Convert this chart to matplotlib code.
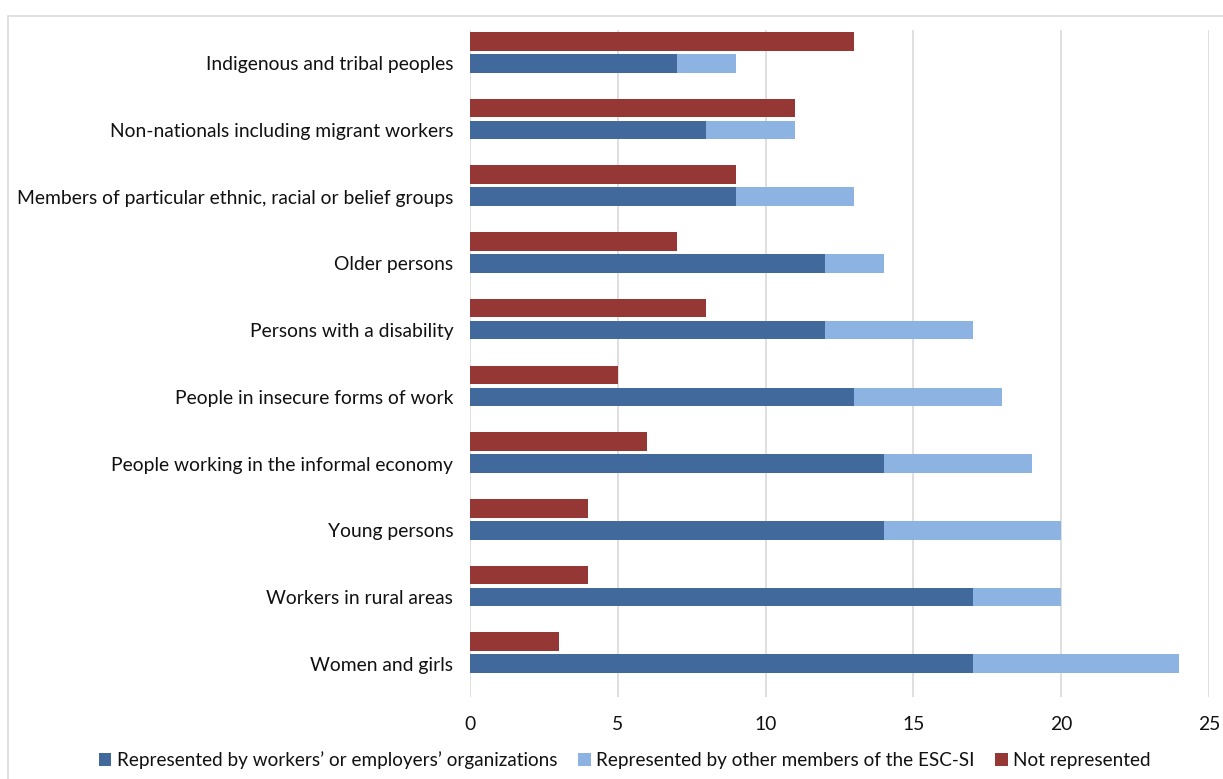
import matplotlib
matplotlib.use("Agg")
import matplotlib.pyplot as plt
from matplotlib.patches import Rectangle
import numpy as np

plt.rcParams['font.family'] = ['Lato', 'DejaVu Sans']

groups = [
    "Indigenous and tribal peoples",
    "Non-nationals including migrant workers",
    "Members of particular ethnic, racial or belief groups",
    "Older persons",
    "Persons with a disability",
    "People in insecure forms of work",
    "People working in the informal economy",
    "Young persons",
    "Workers in rural areas",
    "Women and girls",
]
by_social_partners = [7, 8, 9, 12, 12, 13, 14, 14, 17, 17]
by_other_members = [2, 3, 4, 2, 5, 5, 5, 6, 3, 7]
not_represented = [13, 11, 9, 7, 8, 5, 6, 4, 4, 3]

dark_blue = "#41699c"
light_blue = "#8db3e2"
dark_red = "#953735"
text_col = "#111111"

fig = plt.figure(figsize=(12.23, 7.79), dpi=100)
ax = fig.add_axes([470 / 1223, 1 - 697 / 779, (1209 - 470) / 1223, (697 - 30) / 779])

# light frame around the chart area
fig.patches.append(Rectangle((8 / 1223, -0.05), 1.1, 1 - 16 / 779 + 0.05,
                             transform=fig.transFigure, fill=False,
                             edgecolor="#dcdcdc", linewidth=1.2))

y = np.arange(len(groups))
h = 0.28
ax.barh(y, by_social_partners, height=h, color=dark_blue,
        label="Represented by workers\u2019 or employers\u2019 organizations")
ax.barh(y, by_other_members, left=by_social_partners, height=h, color=light_blue,
        label="Represented by other members of the ESC-SI")
ax.barh(y - 0.33, not_represented, height=h, color=dark_red, label="Not represented")

ax.set_xlim(0, 25)
ax.set_ylim(len(groups) - 0.5, -0.5)
ax.set_xticks(range(0, 26, 5))
ax.set_yticks(y)
ax.set_yticklabels(groups)
ax.grid(axis="x", color="#d9d9d9", linewidth=1.2)
ax.set_axisbelow(True)
for s in ax.spines.values():
    s.set_visible(False)
ax.tick_params(length=0, labelsize=13.9, colors=text_col)
ax.tick_params(axis="y", pad=12)
ax.tick_params(axis="x", pad=14)

fig.legend(loc="center", bbox_to_anchor=(0.511, 1 - 760 / 779), ncol=3, frameon=False,
           fontsize=13.6, handlelength=0.65, handleheight=0.65, handletextpad=0.3,
           columnspacing=1.1, labelcolor=text_col)

fig.savefig("out.png", dpi=100)
